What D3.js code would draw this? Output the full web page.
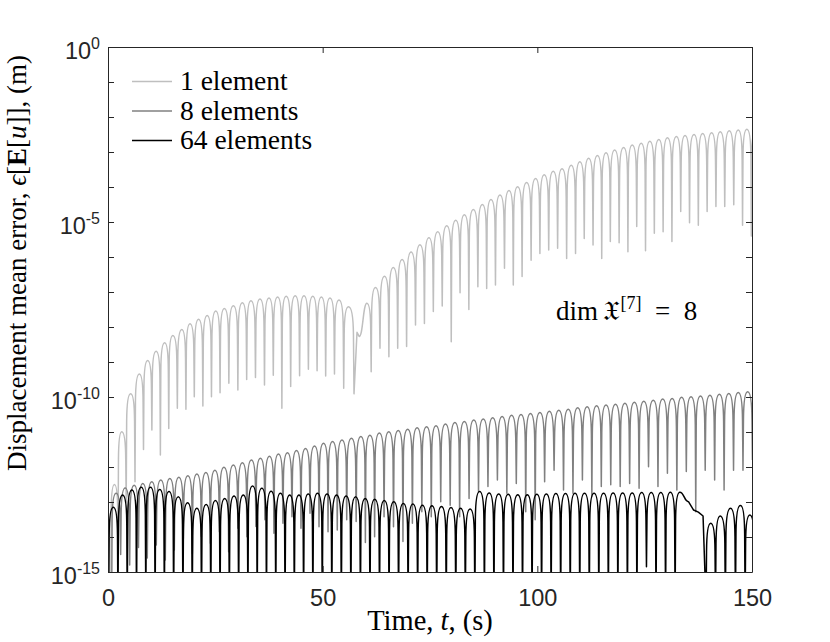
<!DOCTYPE html>
<html>
<head>
<meta charset="utf-8">
<script src="https://d3js.org/d3.v7.min.js"></script>
<style>
  body { margin: 0; background: #fff; }
  svg { display: block; }
  .serif { font-family: "Liberation Serif", "Times New Roman", serif; fill: #000; }
</style>
</head>
<body>
<svg id="chart" width="830" height="642"></svg>
<script>
// all values are log10 of the error
// peaks = top of each arch, dips = bottom of the spike before each arch (one extra at the end)

var xTicks = [0, 50, 100, 150];
var yLabelled = [0, -5, -10, -15];
var names = ["1 element", "8 elements", "64 elements"];
var colors = ["#bfbfbf", "#808080", "#000000"];

var lgT = [1.5, 3.2, 5.28, 7.3, 9.24, 11.2, 13.2, 15.1, 17.2, 19.1, 21.1, 23.1, 25.1, 27.1, 29.2, 31.3, 33.3, 35.4, 37.5, 39.5,
  41.5, 43.6, 45.65, 47.7, 49.7, 51.7, 53.8, 56.0,
  60.3, 62.3, 64.4, 66.45, 68.5, 70.6, 72.65, 74.75, 76.8, 78.9, 81.0, 83.0, 85.1, 87.2, 89.2, 91.3, 93.4, 95.4, 97.5, 99.6,
  101.6, 103.7, 105.75, 107.9, 109.9, 111.95, 114.0, 116.0, 118.0, 120.1, 122.1, 124.2, 126.2, 128.3, 130.3, 132.4, 134.4,
  136.5, 138.5, 140.6, 142.6, 144.7, 146.8, 148.8, 150.9];
var lgPeak = [-12.5, -10.99, -9.91, -9.34, -8.96, -8.69, -8.45, -8.24, -8.07, -7.91, -7.78, -7.67, -7.54, -7.47, -7.39, -7.31,
  -7.25, -7.2, -7.17, -7.14, -7.12, -7.11, -7.11, -7.12, -7.14, -7.17, -7.23, -7.42,
  -7.32, -6.87, -6.55, -6.3, -6.07, -5.86, -5.65, -5.45, -5.28, -5.11, -4.95, -4.79, -4.64, -4.5, -4.36, -4.23, -4.1, -3.99,
  -3.87, -3.76, -3.65, -3.55, -3.48, -3.38, -3.28, -3.18, -3.1, -3.02, -2.94, -2.87, -2.8, -2.75, -2.69, -2.64, -2.59, -2.56,
  -2.53, -2.5, -2.47, -2.45, -2.42, -2.39, -2.37, -2.35, -2.33];
var lgDip = [-16, -13.9, -13.0, -12.42, -11.5, -10.94, -11.66, -10.9, -10.32, -10.35, -9.99, -10.26, -9.99, -9.88, -9.61, -9.8,
  -9.5, -9.44, -9.66, -9.38, -10.32, -9.7, -9.39, -9.21, -9.25, -9.4, -9.34, -9.75,
  -9.91, -9.28, -8.61, -8.85, -8.61, -8.56, -7.94, -7.9, -7.56, -7.4, -8.42, -7.02, -7.5, -6.85, -6.9, -6.8, -6.32, -6.8,
  -6.56, -6.09, -5.9, -5.8, -5.75, -6.04, -5.9, -5.47, -5.66, -6.04, -5.56, -5.59, -5.85, -5.13, -5.82, -5.32, -5.28, -5.56,
  -4.7, -5.02, -5.09, -4.7, -4.56, -4.56, -4.51, -5.09, -5.4, -5.0];
// the notch near t = 58 s
var lgBridge = [{ i: 28, dipT: 57.3, post: [[58.0, -8.15], [58.5, -8.27]] }];

var medT = [1.9, 4.0, 6.1, 8.1, 10.2, 12.3, 14.4, 16.5, 18.6, 20.7, 22.8, 24.9, 27.0, 29.2, 31.3, 33.4, 35.5, 37.6, 39.7, 41.8,
  43.9, 46.0, 48.1, 50.2, 52.3, 54.5, 56.7, 58.9, 61.0, 63.2, 65.4, 67.6, 69.8, 72.0, 74.2, 76.4, 78.6, 80.8, 83.0, 85.2,
  87.4, 89.6, 91.8, 94.0, 96.2, 98.4, 100.6, 102.8, 105.0, 107.2, 109.4, 111.6, 113.8, 116.0, 118.2, 120.4, 122.6, 124.8,
  127.0, 129.2, 131.4, 133.6, 135.8, 138.0, 140.2, 142.4, 144.6, 146.8, 149.0];
var medPeak = [-12.75, -12.6, -12.52, -12.47, -12.42, -12.37, -12.33, -12.29, -12.25, -12.2, -12.16, -12.09, -12.01, -11.94,
  -11.88, -11.8, -11.75, -11.69, -11.63, -11.59, -11.53, -11.47, -11.4, -11.32, -11.27, -11.23, -11.18, -11.13, -11.09,
  -11.03, -10.99, -10.96, -10.92, -10.88, -10.85, -10.82, -10.77, -10.73, -10.7, -10.66, -10.63, -10.59, -10.56, -10.52,
  -10.5, -10.47, -10.44, -10.41, -10.38, -10.35, -10.31, -10.28, -10.25, -10.23, -10.21, -10.18, -10.15, -10.12, -10.09,
  -10.06, -10.04, -10.01, -9.99, -9.97, -9.95, -9.92, -9.9, -9.87, -9.85];
var medDip = [-16, -14.5, -14.8, -14.3, -14.6, -14.23, -14.66, -14.37, -14.04, -14.47, -13.99, -14.18, -13.85, -14.42, -13.75,
  -13.99, -13.7, -13.51, -13.89, -13.61, -13.42, -13.75, -13.32, -13.71, -13.85, -13.8, -13.51, -13.56, -14.16, -13.99,
  -13.42, -13.71, -14.13, -13.61, -13.28, -13.42, -12.99, -13.09, -13.42, -12.9, -12.7, -12.56, -12.37, -12.75, -12.47,
  -13.28, -13.51, -12.42, -12.09, -12.66, -12.75, -12.37, -12.85, -12.56, -12.51, -12.56, -12.47, -12.61, -11.99, -12.56,
  -12.18, -12.66, -12.13, -13.28, -12.09, -12.37, -12.66, -12.09, -12.09, -11.8];

var blkT = [1.24, 3.40, 5.56, 7.73, 9.89, 12.05, 14.21, 16.37, 18.54, 20.70, 22.86, 25.02, 27.18, 29.35, 31.51, 33.67, 35.83,
  37.99, 40.16, 42.32, 44.48, 46.64, 48.80, 51.02, 53.24, 55.46, 57.68, 59.91, 62.13, 64.35, 66.57, 68.79, 71.01, 73.23,
  75.45, 77.67, 79.89, 82.12, 84.34, 86.56, 88.78, 91.0, 93.22, 95.44, 97.66, 99.88, 102.1, 104.32, 106.55, 108.77, 110.99,
  113.21, 115.43, 117.65, 119.87, 122.09, 124.31, 126.53, 128.76, 130.98, 133.2, 140.4, 142.6, 145.0, 147.3, 149.5];
var blkPeak = [-13.15, -12.8, -12.66, -12.58, -12.58, -12.64, -12.7, -12.85, -13.02, -13.18, -13.07, -12.96, -12.9, -12.83,
  -12.8, -12.54, -12.61, -12.69, -12.75, -12.8, -12.8, -12.77, -12.75, -12.77, -12.8, -12.83, -12.85, -12.9, -12.92, -12.96,
  -12.99, -13.04, -13.06, -13.09, -13.11, -13.13, -13.16, -13.18, -13.2, -12.7, -12.74, -12.77, -12.78, -12.79, -12.79,
  -12.78, -12.77, -12.76, -12.76, -12.75, -12.75, -12.75, -12.75, -12.74, -12.74, -12.74, -12.73, -12.73, -12.73, -12.72,
  -12.72, -13.61, -13.4, -13.18, -13.1, -13.37];
var blkDip = [-16, -16, -16, -16, -16, -16, -16, -16, -16, -16, -16, -16, -16, -16, -16, -16, -16, -16, -16, -16, -16, -16,
  -16, -16, -16, -16, -16, -16, -16, -16, -16, -16, -16, -16, -16, -16, -16, -16, -16, -16, -16, -16, -16, -16, -16, -16,
  -16, -16, -16, -16, -16, -16, -16, -16, -16, -16, -16, -14.85, -16, -16, -16, -16, -16, -16, -16, -16, -16];
// smooth fall-off before the late drop near t = 139 s
var blkBridge = [{ i: 61, dipT: 139.3, pre: [[135.2, -12.99], [136.4, -13.23], [137.5, -13.29], [138.6, -13.4]] }];

var svg = d3.select("#chart");
var pL = 108, pR = 752, pT = 47, pB = 572;

var x = d3.scaleLinear().domain([0, 150]).range([pL, pR]);
var y = d3.scaleLog().domain([1e-15, 1]).range([pB, pT]);
var decades = d3.range(-15, 1).map(function(e) { return Math.pow(10, e); });

svg.append("clipPath").attr("id", "plotclip")
  .append("rect").attr("x", pL).attr("y", pT).attr("width", pR - pL).attr("height", pB - pT);

function buildKnots(T, P, D, bridges) {
  var k = [];
  for (var i = 0; i <= T.length; i++) {
    var b = bridges.filter(function(d) { return d.i === i; })[0] || {};
    (b.pre || []).forEach(function(p) { k.push({ t: p[0], v: p[1], kind: "s" }); });
    var dt;
    if (b.dipT != null) dt = b.dipT;
    else if (i === 0) dt = T[0] - (T[1] - T[0]) / 2;
    else if (i === T.length) dt = T[i - 1] + (T[i - 1] - T[i - 2]) / 2;
    else dt = (T[i - 1] + T[i]) / 2;
    k.push({ t: dt, v: D[i], kind: "d" });
    (b.post || []).forEach(function(p) { k.push({ t: p[0], v: p[1], kind: "s" }); });
    if (i < T.length) k.push({ t: T[i], v: P[i], kind: "p" });
  }
  return k;
}

// arches: sharp spike at each dip, rounded top at each peak
function seriesPath(knots) {
  var pts = knots.map(function(d) { return { x: x(d.t), y: y(Math.pow(10, d.v)), kind: d.kind }; });
  var p = d3.path();
  p.moveTo(pts[0].x, pts[0].y);
  for (var i = 1; i < pts.length; i++) {
    var a = pts[i - 1], b = pts[i], w = b.x - a.x, h;
    if (a.kind === "d" && b.kind === "p") {
      h = Math.min(28, a.y - b.y);
      if (h > 0) {
        p.lineTo(a.x + 0.1 * w * h / 28, b.y + h);
        p.bezierCurveTo(a.x + 0.14 * w, b.y + 0.3 * h, a.x + 0.5 * w, b.y, b.x, b.y);
      } else p.lineTo(b.x, b.y);
    } else if (a.kind === "p" && b.kind === "d") {
      h = Math.min(28, b.y - a.y);
      if (h > 0) {
        p.bezierCurveTo(b.x - 0.5 * w, a.y, b.x - 0.14 * w, a.y + 0.3 * h, b.x - 0.1 * w * h / 28, a.y + h);
        p.lineTo(b.x, b.y);
      } else p.lineTo(b.x, b.y);
    } else if (a.kind === "d" || b.kind === "d" || (a.kind === "s" && b.kind === "s")) {
      p.lineTo(b.x, b.y);
    } else {
      p.bezierCurveTo(a.x + w / 2, a.y, b.x - w / 2, b.y, b.x, b.y);
    }
  }
  return p.toString();
}

var series = [
  buildKnots(lgT, lgPeak, lgDip, lgBridge),
  buildKnots(medT, medPeak, medDip, []),
  buildKnots(blkT, blkPeak, blkDip, blkBridge)
];

svg.append("g").attr("clip-path", "url(#plotclip)")
  .selectAll("path").data(series).enter().append("path")
  .attr("d", seriesPath)
  .attr("fill", "none")
  .attr("stroke", function(d, i) { return colors[i]; })
  .attr("stroke-width", 1.5)
  .attr("stroke-linejoin", "round");

// axes, ticks inward on all four sides
var axisColor = "#262626";
var gx = svg.append("g").attr("transform", "translate(0," + pB + ")")
  .call(d3.axisBottom(x).tickValues(xTicks).tickSizeInner(-6).tickSizeOuter(0).tickPadding(17));
svg.append("g").attr("transform", "translate(0," + pT + ")")
  .call(d3.axisTop(x).tickValues(xTicks).tickSizeInner(-6).tickSizeOuter(0).tickFormat(""));
var gy = svg.append("g").attr("transform", "translate(" + pL + ",0)")
  .call(d3.axisLeft(y).tickValues(decades).tickSizeInner(-6).tickSizeOuter(0).tickPadding(8).tickFormat(""));
svg.append("g").attr("transform", "translate(" + pR + ",0)")
  .call(d3.axisRight(y).tickValues(decades).tickSizeInner(-6).tickSizeOuter(0).tickFormat(""));

svg.selectAll(".domain, .tick line").attr("stroke", axisColor);
gx.selectAll("text").attr("font-family", "Liberation Sans, Arial, sans-serif")
  .attr("font-size", 23.5).attr("fill", axisColor);

gy.selectAll(".tick").each(function(d) {
  var e = Math.round(Math.log10(d));
  if (yLabelled.indexOf(e) < 0) return;
  var t = d3.select(this).select("text")
    .attr("font-family", "Liberation Sans, Arial, sans-serif")
    .attr("fill", axisColor).attr("dy", 11).attr("font-size", 23.5);
  t.append("tspan").text("10");
  t.append("tspan").attr("font-size", 16).attr("dy", -10).text(e);
});

// axis titles
var xl = svg.append("text").attr("class", "serif").attr("x", 430).attr("y", 630)
  .attr("text-anchor", "middle").attr("font-size", 28.5);
xl.append("tspan").text("Time, ");
xl.append("tspan").attr("font-style", "italic").text("t");
xl.append("tspan").text(", (s)");

var yl = svg.append("text").attr("class", "serif")
  .attr("transform", "translate(26,263) rotate(-90)")
  .attr("text-anchor", "middle").attr("font-size", 27);
yl.append("tspan").text("Displacement mean error, ");
yl.append("tspan").attr("font-style", "italic").text("\u03f5");
yl.append("tspan").text("[");
yl.append("tspan").attr("font-weight", "bold").text("E");
yl.append("tspan").text("[");
yl.append("tspan").attr("font-style", "italic").text("u");
yl.append("tspan").text("]], (m)");

// legend
var lg = svg.append("g").selectAll("g").data(names).enter().append("g")
  .attr("transform", function(d, i) { return "translate(132," + (81 + i * 29.5) + ")"; });
lg.append("line").attr("x1", 0).attr("x2", 40).attr("y1", 0.5).attr("y2", 0.5)
  .attr("stroke", function(d, i) { return colors[i]; }).attr("stroke-width", 1.5);
lg.append("text").attr("class", "serif").attr("x", 48).attr("y", 9).attr("font-size", 27.5)
  .text(function(d) { return d; });

// annotation
var an = svg.append("text").attr("class", "serif").attr("x", 556).attr("y", 320).attr("font-size", 27);
an.append("tspan").text("dim\u2009");
an.append("tspan").attr("font-family", "DejaVu Serif, DejaVu Sans, serif").text("\u{1D51B}");
an.append("tspan").attr("font-size", 18).attr("dy", -11).text("[7]");
an.append("tspan").attr("dy", 11).text("\u2002=\u20028");
</script>
</body>
</html>
